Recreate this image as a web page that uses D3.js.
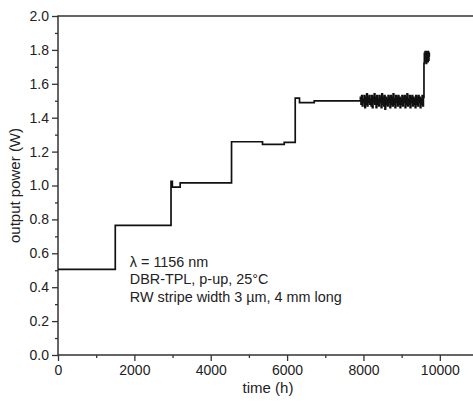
<!DOCTYPE html>
<html>
<head>
<meta charset="utf-8">
<script src="https://cdn.jsdelivr.net/npm/d3@7"></script>
<style>
  body { margin: 0; background: #fff; }
  svg { display: block; font-family: "Liberation Sans", Arial, sans-serif; }
</style>
</head>
<body>
<div id="wrapper"></div>
<script>
// step levels: [time (h), output power (W)], each value holds until the next time
const stepPoints = [
  [0, 0.505], [1500, 0.765], [2960, 1.025], [2995, 0.99], [3200, 1.015],
  [4545, 1.258], [5356, 1.243], [5925, 1.255], [6213, 1.515], [6325, 1.489],
  [6711, 1.499]
];

// noisy stretch from ~7920 h on, one reading every 16.5 h
const noiseStart = 7920;
const noiseStep = 16.5;
const noiseValues = [
  1.52, 1.48, 1.53, 1.47, 1.51, 1.49, 1.53, 1.46, 1.52, 1.48,
  1.54, 1.47, 1.52, 1.49, 1.53, 1.48, 1.51, 1.47, 1.53, 1.46,
  1.52, 1.49, 1.54, 1.48, 1.52, 1.46, 1.53, 1.48, 1.51, 1.47,
  1.53, 1.49, 1.52, 1.46, 1.54, 1.48, 1.52, 1.47, 1.53, 1.45,
  1.52, 1.48, 1.51, 1.47, 1.53, 1.49, 1.52, 1.46, 1.53, 1.48,
  1.52, 1.47, 1.54, 1.48, 1.51, 1.46, 1.53, 1.49, 1.52, 1.47,
  1.53, 1.48, 1.52, 1.46, 1.51, 1.48, 1.53, 1.47, 1.52, 1.49,
  1.53, 1.46, 1.52, 1.48, 1.54, 1.47, 1.51, 1.48, 1.53, 1.46,
  1.52, 1.49, 1.53, 1.47, 1.52, 1.48, 1.51, 1.46, 1.53, 1.48,
  1.52, 1.47, 1.53, 1.49, 1.52, 1.46, 1.51, 1.48, 1.53, 1.47,
  1.52
];

// last jump near the end of the test
const endPoints = [
  [9585, 1.72], [9595, 1.78], [9605, 1.73], [9615, 1.79], [9625, 1.74],
  [9635, 1.78], [9645, 1.72], [9655, 1.79], [9665, 1.75], [9675, 1.78],
  [9685, 1.73], [9695, 1.79], [9705, 1.74], [9715, 1.78], [9725, 1.76]
];

const xTicks = [0, 2000, 4000, 6000, 8000, 10000];
const yTicks = [0.0, 0.2, 0.4, 0.6, 0.8, 1.0, 1.2, 1.4, 1.6, 1.8, 2.0];
const annotation = ['\u03bb = 1156 nm', 'DBR-TPL, p-up, 25\u00b0C', 'RW stripe width 3 \u00b5m, 4 mm long'];

const dimensions = {
  width: 473,
  height: 405,
  margin: { top: 16, right: -5, bottom: 50, left: 58 }
};
dimensions.boundedWidth = dimensions.width - dimensions.margin.left - dimensions.margin.right;
dimensions.boundedHeight = dimensions.height - dimensions.margin.top - dimensions.margin.bottom;

const data = stepPoints
  .concat(noiseValues.map((v, i) => [noiseStart + i * noiseStep, v]))
  .concat(endPoints);

const x = d3.scaleLinear().domain([0, 11000]).range([0, dimensions.boundedWidth]);
const y = d3.scaleLinear().domain([0, 2]).range([dimensions.boundedHeight, 0]);

const svg = d3.select('#wrapper').append('svg')
  .attr('width', dimensions.width)
  .attr('height', dimensions.height);

const bounds = svg.append('g')
  .attr('transform', `translate(${dimensions.margin.left}, ${dimensions.margin.top})`);

// minor ticks
bounds.append('g')
  .attr('class', 'minor')
  .attr('transform', `translate(0, ${dimensions.boundedHeight})`)
  .call(d3.axisBottom(x).tickValues(d3.range(1000, 11000, 2000)).tickSize(3).tickFormat(''));
bounds.append('g')
  .attr('class', 'minor')
  .call(d3.axisLeft(y).tickValues(d3.range(0.1, 2, 0.2)).tickSize(3).tickFormat(''));

const xAxis = bounds.append('g')
  .attr('transform', `translate(0, ${dimensions.boundedHeight})`)
  .call(d3.axisBottom(x).tickValues(xTicks).tickSize(6).tickPadding(4).tickFormat(d3.format('d')));
const yAxis = bounds.append('g')
  .call(d3.axisLeft(y).tickValues(yTicks).tickSize(6).tickPadding(3).tickFormat(d3.format('.1f')));

svg.selectAll('.domain').remove();
svg.selectAll('.tick line').attr('stroke', '#333').attr('stroke-width', 1.3);
svg.selectAll('.tick text').attr('fill', '#222').style('font-size', '14px');

// frame
bounds.append('rect')
  .attr('width', dimensions.boundedWidth)
  .attr('height', dimensions.boundedHeight)
  .attr('fill', 'none')
  .attr('stroke', '#333')
  .attr('stroke-width', 1.5);

const line = d3.line()
  .x((d) => x(d[0]))
  .y((d) => y(d[1]))
  .curve(d3.curveStepAfter);

bounds.append('path')
  .datum(data)
  .attr('fill', 'none')
  .attr('stroke', '#111')
  .attr('stroke-width', 1.7)
  .attr('d', line);

bounds.append('text')
  .attr('x', dimensions.boundedWidth / 2)
  .attr('y', dimensions.boundedHeight + 38)
  .attr('text-anchor', 'middle')
  .attr('fill', '#222')
  .style('font-size', '15px')
  .text('time (h)');

bounds.append('text')
  .attr('transform', `translate(${-dimensions.margin.left + 20}, ${dimensions.boundedHeight / 2}) rotate(-90)`)
  .attr('text-anchor', 'middle')
  .attr('fill', '#222')
  .style('font-size', '15px')
  .text('output power (W)');

bounds.append('g')
  .selectAll('text')
  .data(annotation)
  .join('text')
  .attr('x', x(1880))
  .attr('y', (d, i) => 250.5 + i * 17.5)
  .attr('fill', '#222')
  .style('font-size', '14.4px')
  .text((d) => d);
</script>
</body>
</html>
